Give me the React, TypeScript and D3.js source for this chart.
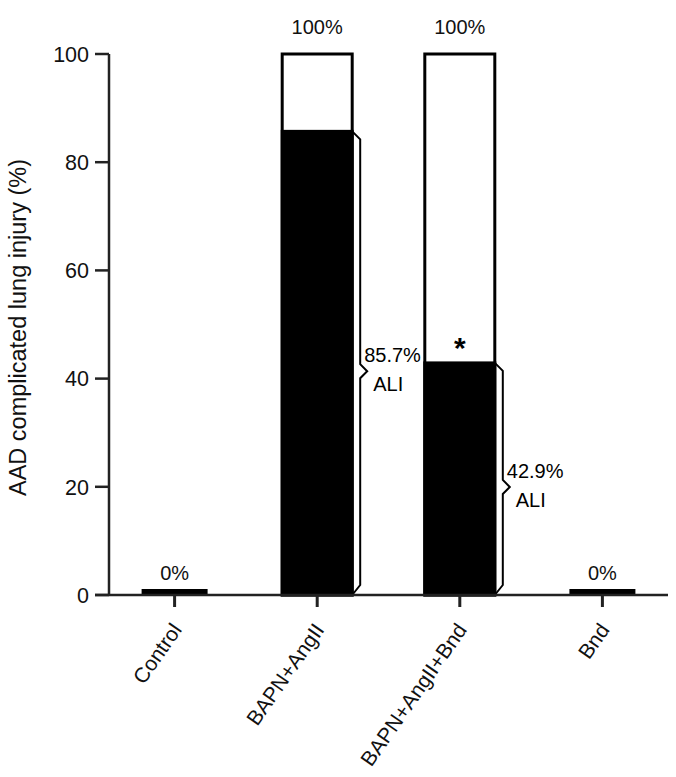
import React from "react";
import * as d3 from "d3";

const categories = ["Control", "BAPN+AngII", "BAPN+AngII+Bnd", "Bnd"];
const totalValues = [0, 100, 100, 0];
const aliValues = [0, 85.7, 42.9, 0];
const topLabels = ["0%", "100%", "100%", "0%"];
const aliLabels = ["", "85.7%", "42.9%", ""];
const sigMarks = ["", "", "*", ""];
const yTicks = [0, 20, 40, 60, 80, 100];
const yTitle = "AAD complicated lung injury (%)";

const W = 676;
const H = 777;
const FONT = "'Liberation Sans', Arial, Helvetica, sans-serif";

export default function App() {
  const y = d3.scaleLinear().domain([0, 100]).range([595, 54]);
  const x = d3.scalePoint<string>().domain(categories).range([109, 668]).padding(0.46);
  const barW = 70;
  const axisX = 109;
  const axisY = y(0);

  return (
    <svg width={W} height={H} style={{ display: "block", position: "absolute", left: 0, top: 0 }} fontFamily={FONT}>
      <rect width={W} height={H} fill="#fff" />
      {categories.map((c, i) => {
        const cx = x(c)!;
        const x0 = cx - barW / 2;
        const total = totalValues[i];
        const ali = aliValues[i];
        const elems: React.ReactNode[] = [];
        if (total > 0) {
          elems.push(
            <rect key="w" x={x0} y={y(total)} width={barW} height={axisY - y(total)} fill="#fff" stroke="#000" strokeWidth={3} />
          );
        }
        if (ali > 0) {
          elems.push(
            <rect key="b" x={x0} y={y(ali)} width={barW} height={axisY - y(ali)} fill="#000" stroke="#000" strokeWidth={3} />
          );
          const xr = x0 + barW;
          const yt = y(ali);
          const yb = axisY;
          const ym = (yt + yb) / 2 + 8;
          const pts: [number, number][] = [
            [xr, yt],
            [xr + 8, yt + 8],
            [xr + 8, ym - 7],
            [xr + 15, ym],
            [xr + 8, ym + 7],
            [xr + 8, yb - 10],
            [xr, yb],
          ];
          elems.push(
            <path key="br" d={d3.line()(pts)!} fill="none" stroke="#000" strokeWidth={2} />
          );
          elems.push(
            <text key="t1" x={xr + 12} y={ym - 9} fontSize={20} fill="#000">{aliLabels[i]}</text>
          );
          elems.push(
            <text key="t2" x={xr + 36} y={ym + 20} fontSize={20} fill="#000" textAnchor="middle">ALI</text>
          );
        }
        if (total === 0 && ali === 0) {
          elems.push(
            <rect key="z" x={x0 + 2} y={axisY - 6} width={barW - 4} height={6} fill="#000" />
          );
        }
        const labelY = total > 0 ? y(total) - 20 : axisY - 15;
        elems.push(
          <text key="top" x={cx} y={labelY} fontSize={20} textAnchor="middle" fill="#111">{topLabels[i]}</text>
        );
        if (sigMarks[i]) {
          elems.push(
            <text key="sig" x={cx} y={y(ali) - 5} fontSize={30} fontWeight="bold" textAnchor="middle" fill="#000">{sigMarks[i]}</text>
          );
        }
        return <g key={c}>{elems}</g>;
      })}

      {/* y axis */}
      <line x1={axisX} x2={axisX} y1={y(100)} y2={axisY} stroke="#222" strokeWidth={2.5} />
      {yTicks.map((t) => (
        <g key={t}>
          <line x1={axisX - 14} x2={axisX} y1={y(t)} y2={y(t)} stroke="#222" strokeWidth={2.5} />
          <text x={axisX - 20} y={y(t)} dy="0.36em" fontSize={21.5} textAnchor="end" fill="#111">{t}</text>
        </g>
      ))}
      <text
        transform={`translate(26, ${(y(0) + y(100)) / 2 + 3}) rotate(-90)`}
        fontSize={23.5}
        textAnchor="middle"
        fill="#111"
      >
        {yTitle}
      </text>

      {/* x axis */}
      <line x1={axisX - 14} x2={668} y1={axisY} y2={axisY} stroke="#222" strokeWidth={2.5} />
      {categories.map((c) => {
        const cx = x(c)!;
        return (
          <g key={c}>
            <line x1={cx} x2={cx} y1={axisY} y2={axisY + 12} stroke="#222" strokeWidth={3} />
            <text
              transform={`translate(${cx + 8}, ${axisY + 35}) rotate(-55)`}
              fontSize={21}
              textAnchor="end"
              fill="#111"
            >
              {c}
            </text>
          </g>
        );
      })}
    </svg>
  );
}
